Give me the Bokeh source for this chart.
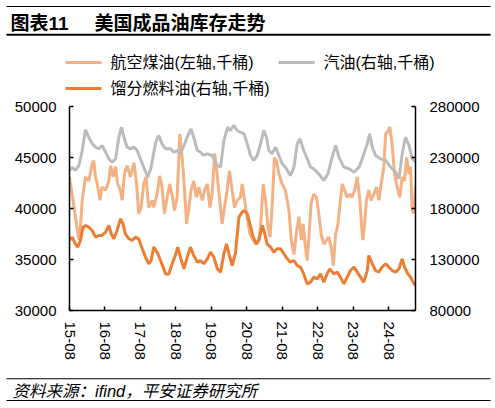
from bokeh.plotting import figure
from bokeh.layouts import column
from bokeh.models import Range1d, LinearAxis, FixedTicker, BasicTickFormatter
from bokeh.embed import file_html
from bokeh.resources import INLINE
from bokeh.core.properties import value

# ---------------- data (months since 2015-08) ----------------
jet_m = [0.0, 0.6, 1.2, 2.0, 3.2, 3.7, 4.3, 5.4, 6.5, 7.7, 8.2, 8.8, 9.4, 10.3, 11.0, 12.2, 13.3, 13.9,
         14.8, 15.6, 16.3, 17.2, 17.8, 18.6, 19.5, 20.6, 21.8, 22.7, 23.4, 24.2, 25.1, 25.9, 26.8, 28.0,
         28.5, 29.6, 30.5, 31.3, 32.1, 33.0, 33.9, 34.7, 35.5, 36.4, 37.3, 38.1, 38.7, 39.6, 40.4, 41.1,
         42.0, 42.9, 43.7, 44.9, 45.7, 46.6, 47.5, 48.2, 49.1, 49.9, 50.8, 51.6, 52.4, 53.3, 54.1, 55.0,
         55.8, 56.7, 57.8, 58.4, 59.2, 59.9, 61.0, 62.1, 63.2, 64.0, 64.6, 65.5, 66.3, 67.1, 67.8, 68.5,
         69.3, 70.0, 70.8, 71.9, 73.0, 74.2, 75.0, 75.9, 76.8, 77.6, 78.4, 79.0, 79.8, 80.4, 80.9, 81.7,
         82.6, 83.5, 84.3, 85.1, 86.0, 86.9, 87.7, 88.5, 89.2, 90.0, 90.8, 91.6, 92.2, 93.0, 93.9, 94.8,
         95.6, 96.4, 97.3, 98.2, 98.8, 99.2, 99.8, 100.4, 101.2, 102.0, 102.9, 103.8, 104.6, 105.4, 106.3,
         106.9, 107.7, 108.3, 109.1, 109.9, 110.8, 111.7, 112.5, 113.3, 114.0, 114.8, 115.3, 115.9, 116.5,
         117.0]
jet_v = [43100, 41900, 40800, 39200, 36900, 38200, 40800, 43100, 42700, 44400, 44700, 43100, 42400, 40800,
         42100, 41800, 42700, 44200, 43100, 44100, 42400, 41800, 40800, 43400, 44200, 43100, 44500, 42400,
         39500, 40100, 42400, 43100, 40100, 40800, 40100, 41400, 43200, 42100, 39500, 41100, 42400, 41300,
         39800, 41100, 47300, 45000, 42700, 38500, 40100, 41800, 42700, 41100, 42100, 40800, 41800, 42400,
         40100, 41400, 45400, 43400, 40800, 38500, 40100, 41800, 43700, 41800, 40100, 40800, 41100, 42400,
         40800, 39500, 37500, 36900, 36500, 36900, 38200, 42400, 40800, 38200, 37200, 40100, 45000, 44700,
         43400, 42400, 41800, 39800, 36900, 35500, 37800, 39200, 36900, 38500, 36200, 34900, 36900, 40500,
         41400, 41100, 39500, 37500, 36500, 36900, 37200, 36200, 34400, 37500, 38500, 40800, 42400, 41800,
         41100, 41400, 41100, 41800, 43100, 40800, 38200, 36900, 38500, 40800, 41800, 40800, 41400, 42100,
         40800, 42400, 44100, 47300, 47600, 48000, 46300, 43400, 42100, 41100, 43100, 42700, 45000, 43400,
         44100, 39800, 39500, 42100]

gas_m = [0.0, 0.9, 2.0, 3.2, 4.3, 5.4, 6.5, 7.7, 8.8, 9.9, 11.0, 12.2, 13.3, 14.4, 15.6, 16.7, 17.6, 18.4,
         19.5, 20.6, 21.8, 22.9, 24.0, 25.1, 26.5, 27.6, 28.5, 29.2, 30.2, 31.3, 32.5, 34.2, 35.3, 36.4,
         37.5, 38.7, 39.8, 41.1, 42.0, 43.2, 44.3, 45.4, 46.6, 48.2, 50.0, 51.1, 52.2, 53.5, 54.4, 55.6,
         56.7, 57.8, 59.0, 60.1, 61.2, 62.3, 63.5, 64.6, 65.7, 66.6, 67.4, 68.5, 69.7, 70.8, 71.9, 73.0,
         74.7, 75.9, 77.0, 77.9, 79.2, 80.4, 81.5, 82.6, 84.3, 86.0, 87.4, 88.8, 90.0, 91.1, 92.8, 94.5,
         96.2, 97.9, 99.0, 100.7, 101.5, 102.4, 103.5, 105.2, 106.9, 108.6, 110.3, 111.4, 112.5, 113.6,
         114.8, 115.9, 117.0]
gas_v = [217300, 220500, 217300, 222200, 236900, 257100, 249900, 243400, 240100, 238500, 241800, 235200,
         228700, 225400, 228700, 249900, 259700, 249900, 240100, 238500, 240100, 236900, 228700, 220500,
         210700, 220500, 235000, 245000, 251600, 243400, 238500, 238500, 235200, 236900, 233600, 241800,
         249900, 258100, 249900, 236900, 235200, 232000, 233600, 232000, 222200, 220500, 246700, 259700,
         256500, 261400, 256500, 254800, 253200, 243400, 232000, 227100, 232000, 243400, 256500, 249900,
         236900, 233600, 240100, 232000, 223800, 220500, 212300, 220500, 243400, 248300, 236900, 228700,
         220500, 218900, 214000, 207400, 214000, 230300, 241800, 230300, 220500, 218900, 215600, 220500,
         228700, 243400, 253200, 240100, 232000, 228700, 227100, 220500, 215600, 209100, 233600, 249900,
         241800, 228700, 225400]

dist_m = [0.0, 0.9, 2.0, 2.8, 3.7, 4.6, 5.4, 6.5, 7.7, 8.8, 9.9, 11.0, 12.2, 13.3, 14.1, 15.0, 16.1, 17.2,
          18.1, 18.9, 20.1, 21.2, 22.3, 23.4, 24.6, 25.7, 26.8, 27.6, 28.5, 29.6, 30.8, 32.5, 33.6, 34.7,
          35.8, 36.6, 37.5, 38.7, 39.8, 40.9, 42.0, 43.2, 44.3, 45.4, 46.6, 47.7, 48.8, 50.0, 51.1, 52.2,
          53.1, 53.9, 55.0, 56.1, 57.3, 58.4, 59.0, 60.1, 61.0, 62.1, 63.2, 64.0, 65.2, 65.9, 66.8, 68.0,
          69.1, 70.2, 71.4, 72.5, 73.6, 74.7, 75.9, 77.0, 78.1, 79.2, 80.4, 81.5, 82.6, 83.8, 84.9, 86.0,
          87.1, 88.0, 89.4, 90.5, 91.6, 92.8, 93.9, 95.0, 96.2, 97.3, 98.4, 99.5, 100.7, 101.2, 102.4,
          103.5, 104.6, 105.7, 106.9, 108.0, 109.1, 110.3, 111.4, 112.5, 113.3, 114.4, 115.3, 116.5, 117.0]
dist_v = [148600, 151900, 145400, 142100, 148600, 161700, 163300, 161700, 158400, 151900, 153500, 153500,
          156800, 163300, 155200, 150300, 158400, 169900, 165000, 155200, 150300, 148600, 151900, 150300,
          140500, 132300, 125800, 129000, 142100, 137200, 129000, 115900, 115900, 125800, 133900, 142100,
          132300, 120800, 132300, 142100, 133900, 127400, 129000, 125800, 130700, 137200, 132300, 120800,
          117600, 135600, 145400, 135600, 124100, 135600, 171500, 176400, 178000, 174800, 165000, 151900,
          145400, 148600, 163300, 156800, 145400, 142100, 137200, 140500, 140500, 135600, 130700, 127400,
          129000, 124100, 122500, 115900, 106100, 107800, 112700, 111000, 115900, 107800, 115900, 120800,
          115900, 117600, 112700, 106100, 112700, 119200, 122500, 117600, 112700, 107800, 119200, 133900,
          125800, 119200, 117600, 122500, 125800, 122500, 119200, 117600, 120800, 130700, 122500, 115900,
          112700, 106100, 104500]

x_ticks = [0, 12, 24, 36, 48, 60, 72, 84, 96, 108]
x_labels = ["15-08", "16-08", "17-08", "18-08", "19-08", "20-08", "21-08", "22-08", "23-08", "24-08"]
left_ticks = [30000, 35000, 40000, 45000, 50000]
right_ticks = [80000, 130000, 180000, 230000, 280000]

title_tag = "图表11"
title_text = "美国成品油库存走势"
source_text = "资料来源：ifind，平安证券研究所"
names = ["航空煤油(左轴,千桶)", "汽油(右轴,千桶)", "馏分燃料油(右轴,千桶)"]
colors = ["#F4B183", "#BBBBBB", "#ED7D31"]

FONT = "Liberation Sans, Noto Sans CJK SC"
W = 495


def blank(height):
    f = figure(width=W, height=height, x_range=Range1d(0, W), y_range=Range1d(height, 0),
               x_axis_type=None, y_axis_type=None, min_border=0,
               output_backend="svg", toolbar_location=None)
    f.frame_align = False
    f.outline_line_color = None
    f.xgrid.visible = False
    f.ygrid.visible = False
    return f


# ---------------- header: title, rules, legend ----------------
HH = 98
head = blank(HH)
head.quad(left=[6, 6], right=[490, 490], top=[5.5, 33.3], bottom=[6.5, 35.3], fill_color="black", line_color=None)
head.text(x=[10, 94], y=[22.5, 22.5], text=[title_tag, title_text], text_font=value(FONT),
          text_font_size="19px", text_font_style="bold", text_baseline="middle", text_align="left",
          text_color="black")
leg_x0 = [65, 278, 65]
leg_y = [62, 62, 88]
head.segment(x0=leg_x0, y0=leg_y, x1=[x + 36 for x in leg_x0], y1=leg_y, line_color=colors, line_width=3)
head.text(x=[x + 45 for x in leg_x0], y=leg_y, text=names, text_font=value(FONT), text_font_size="16px",
          text_baseline="middle", text_align="left", text_color="black")

# ---------------- main chart ----------------
MH = 275
p = figure(frame_width=346, frame_height=204,
           min_border_left=69, min_border_right=W - 415, min_border_top=8, min_border_bottom=MH - 212,
           x_range=Range1d(0, 117), y_range=Range1d(30000, 50000),
           output_backend="svg", toolbar_location=None)
p.frame_align = False
p.extra_y_ranges = {"right": Range1d(80000, 280000)}
p.outline_line_color = None
p.xgrid.visible = False
p.ygrid.visible = False

p.line(jet_m, jet_v, line_color=colors[0], line_width=3)
p.line(gas_m, gas_v, line_color=colors[1], line_width=3, y_range_name="right")
p.line(dist_m, dist_v, line_color=colors[2], line_width=3, y_range_name="right")

raxis = LinearAxis(y_range_name="right")
p.add_layout(raxis, "right")

for ax in [p.xaxis[0], p.yaxis[0], raxis]:
    ax.axis_line_color = "black"
    ax.axis_line_width = 1.5
    ax.major_tick_line_color = "black"
    ax.major_tick_line_width = 1.5
    ax.major_tick_in = 4
    ax.major_tick_out = 0
    ax.minor_tick_line_color = None
    ax.major_label_text_font = FONT
    ax.major_label_text_font_size = "15px"
    ax.major_label_text_color = "black"

p.xaxis[0].ticker = FixedTicker(ticks=x_ticks)
p.xaxis[0].major_label_overrides = {t: l for t, l in zip(x_ticks, x_labels)}
p.xaxis[0].major_label_orientation = "vertical"
p.xaxis[0].major_label_standoff = 11
p.yaxis[0].ticker = FixedTicker(ticks=left_ticks)
p.yaxis[0].formatter = BasicTickFormatter(use_scientific=False)
p.yaxis[0].major_label_standoff = 13
raxis.ticker = FixedTicker(ticks=right_ticks)
raxis.formatter = BasicTickFormatter(use_scientific=False)
raxis.major_label_standoff = 14

# ---------------- footer: source and rules ----------------
FH = 32
foot = blank(FH)
foot.quad(left=[6, 6], right=[490, 490], top=[4.8, 26.5], bottom=[5.8, 27.5], fill_color="black", line_color=None)
foot.text(x=[12], y=[17], text=[source_text], text_font=value(FONT), text_font_size="16.5px",
          text_font_style="italic", text_baseline="middle", text_align="left", text_color="black")

layout = column(head, p, foot, spacing=0)
open("out.html", "w").write(file_html(layout, INLINE))
